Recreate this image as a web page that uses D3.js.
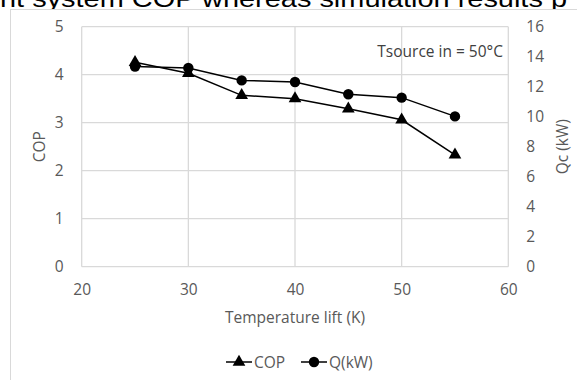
<!DOCTYPE html>
<html>
<head>
<meta charset="utf-8">
<script src="https://cdn.jsdelivr.net/npm/d3@7"></script>
<style>
  html, body { margin: 0; padding: 0; background: #fff; }
  svg { display: block; }
  text { font-family: "Open Sans", sans-serif; }
</style>
</head>
<body>
<div id="chart"></div>
<script>
/* ---------- data ---------- */
const lift = [25, 30, 35, 40, 45, 50, 55];
const cop = [4.26, 4.03, 3.57, 3.50, 3.29, 3.06, 2.33];
const qc = [13.35, 13.25, 12.42, 12.31, 11.50, 11.27, 10.02];
const xTicks = [20, 30, 40, 50, 60];
const copTicks = [0, 1, 2, 3, 4, 5];
const qcTicks = [0, 2, 4, 6, 8, 10, 12, 14, 16];

const width = 577, height = 380;
const plot = { left: 81.7, right: 508.3, top: 26.7, bottom: 266.7 };
const grey = "#595959";
const fs = "15.5px";

const svg = d3.select("#chart").append("svg")
  .attr("width", width)
  .attr("height", height);

// cut-off caption text above the chart
svg.append("text")
  .attr("x", 0)
  .attr("y", 6.5)
  .attr("textLength", 567)
  .attr("lengthAdjust", "spacingAndGlyphs")
  .style("font-family", "'Liberation Sans', Arial, sans-serif")
  .style("font-size", "24px")
  .style("fill", "#000")
  .text("nt system COP  whereas simulation results p");

// chart area frame
svg.append("rect")
  .attr("x", 10.5).attr("y", 9.5)
  .attr("width", 600).attr("height", 400)
  .attr("fill", "#fff")
  .attr("stroke", "#d9d9d9");

const x = d3.scaleLinear().domain([20, 60]).range([plot.left, plot.right]);
const yL = d3.scaleLinear().domain([0, 5]).range([plot.bottom, plot.top]);
const yR = d3.scaleLinear().domain([0, 16]).range([plot.bottom, plot.top]);

// Grid
const grid = svg.append("g").attr("stroke", "#d9d9d9").attr("stroke-width", 1.3);
grid.selectAll(".h").data(copTicks).enter().append("line")
  .attr("x1", plot.left).attr("x2", plot.right)
  .attr("y1", d => yL(d)).attr("y2", d => yL(d));
grid.selectAll(".v").data(xTicks).enter().append("line")
  .attr("y1", plot.top).attr("y2", plot.bottom)
  .attr("x1", d => x(d)).attr("x2", d => x(d));

// Left axis
svg.append("g")
  .attr("transform", `translate(${plot.left},0)`)
  .call(d3.axisLeft(yL).tickValues(copTicks).tickFormat(d3.format("d")).tickSize(0).tickPadding(18))
  .call(g => g.select(".domain").remove())
  .selectAll("text")
  .style("fill", grey)
  .style("font-size", fs)
  .style("font-family", "'Open Sans', sans-serif");

// Right axis
svg.append("g")
  .attr("transform", `translate(${plot.right},0)`)
  .call(d3.axisRight(yR).tickValues(qcTicks).tickFormat(d3.format("d")).tickSize(0).tickPadding(18))
  .call(g => g.select(".domain").remove())
  .selectAll("text")
  .style("fill", grey)
  .style("font-size", fs)
  .style("font-family", "'Open Sans', sans-serif");

// Bottom axis
svg.append("g")
  .attr("transform", `translate(0,${plot.bottom})`)
  .call(d3.axisBottom(x).tickValues(xTicks).tickFormat(d3.format("d")).tickSize(0).tickPadding(17))
  .call(g => g.select(".domain").remove())
  .selectAll("text")
  .style("fill", grey)
  .style("font-size", fs)
  .style("font-family", "'Open Sans', sans-serif");

// Axis titles
svg.append("text")
  .attr("transform", `translate(45,${(plot.top + plot.bottom) / 2}) rotate(-90)`)
  .attr("text-anchor", "middle")
  .style("font-size", fs).style("fill", grey)
  .text("COP");

svg.append("text")
  .attr("transform", `translate(568,${(plot.top + plot.bottom) / 2}) rotate(-90)`)
  .attr("text-anchor", "middle")
  .style("font-size", fs).style("fill", grey)
  .text("Qc (kW)");

svg.append("text")
  .attr("x", (plot.left + plot.right) / 2)
  .attr("y", 323)
  .attr("text-anchor", "middle")
  .style("font-size", fs).style("fill", grey)
  .text("Temperature lift (K)");

// Annotation
svg.append("text")
  .attr("x", 503)
  .attr("y", 57)
  .attr("text-anchor", "end")
  .style("font-size", fs).style("fill", "#404040")
  .text("Tsource in = 50°C");

// Series
const tri = d3.symbol().type(d3.symbolTriangle).size(70);

const copLine = d3.line().x((d, i) => x(lift[i])).y(d => yL(d));
svg.append("path")
  .datum(cop)
  .attr("fill", "none").attr("stroke", "#000").attr("stroke-width", 1.5)
  .attr("d", copLine);
svg.selectAll(".tri").data(cop).enter().append("path")
  .attr("d", tri)
  .attr("transform", (d, i) => `translate(${x(lift[i])},${yL(d)})`)
  .attr("fill", "#000");

const qLine = d3.line().x((d, i) => x(lift[i])).y(d => yR(d));
svg.append("path")
  .datum(qc)
  .attr("fill", "none").attr("stroke", "#000").attr("stroke-width", 1.5)
  .attr("d", qLine);
svg.selectAll(".dot").data(qc).enter().append("circle")
  .attr("cx", (d, i) => x(lift[i]))
  .attr("cy", d => yR(d))
  .attr("r", 5.2)
  .attr("fill", "#000");

// Legend
const legend = svg.append("g").attr("transform", "translate(0,362)");
const items = [
  { label: "COP", x0: 226, shape: "tri" },
  { label: "Q(kW)", x0: 301, shape: "dot" }
];
items.forEach(it => {
  legend.append("line")
    .attr("x1", it.x0).attr("x2", it.x0 + 26)
    .attr("y1", 0).attr("y2", 0)
    .attr("stroke", "#000").attr("stroke-width", 1.5);
  if (it.shape === "tri") {
    legend.append("path").attr("d", tri)
      .attr("transform", `translate(${it.x0 + 13},0)`).attr("fill", "#000");
  } else {
    legend.append("circle").attr("cx", it.x0 + 13).attr("cy", 0).attr("r", 5.2).attr("fill", "#000");
  }
  legend.append("text")
    .attr("x", it.x0 + 28).attr("y", 5.5)
    .style("font-size", fs).style("fill", grey)
    .text(it.label);
});
</script>
</body>
</html>
